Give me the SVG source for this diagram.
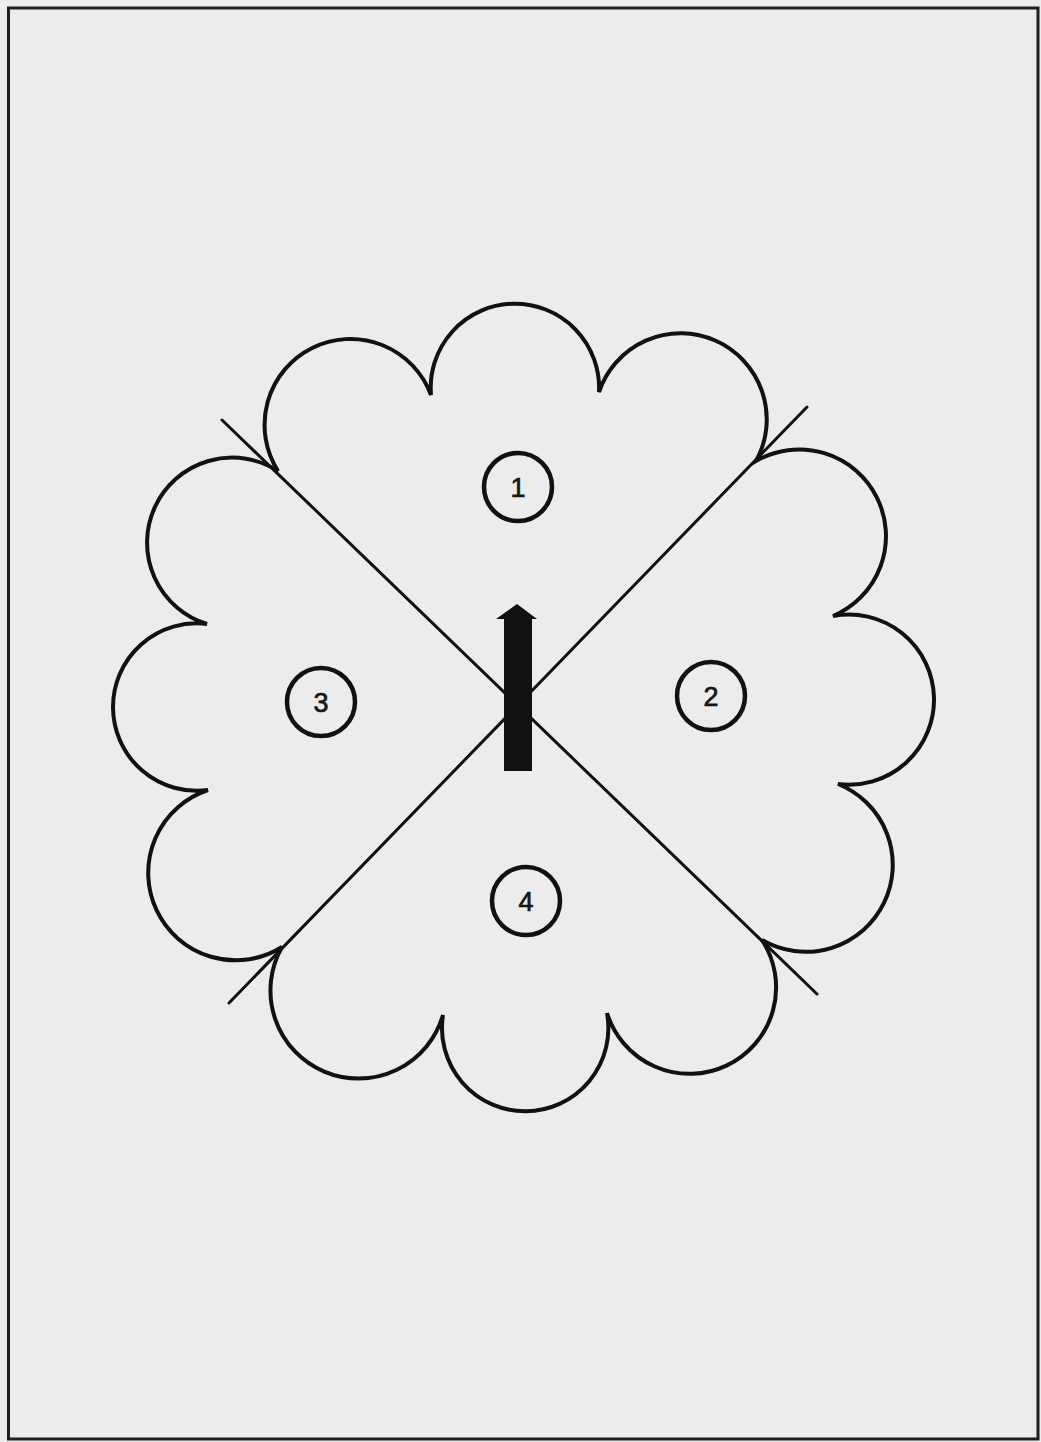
<svg xmlns="http://www.w3.org/2000/svg" width="1041" height="1442" viewBox="0 0 1041 1442">
  <style>
    .ink { fill: none; stroke: #111; stroke-linecap: round; stroke-linejoin: miter; }
    .outline { stroke-width: 4; }
    .divider { stroke-width: 3; }
    .badge { fill: none; stroke: #111; stroke-width: 4.5; }
    .num { font-family: "Liberation Sans", Arial, sans-serif; font-size: 27px; fill: #161616; stroke: #161616; stroke-width: 0.7; text-anchor: middle; }
  </style>
  <rect x="0" y="0" width="1041" height="1442" fill="#ececec"/>
  <rect id="page-border" x="8.5" y="8" width="1029.5" height="1431" fill="none" stroke="#1e1e1e" stroke-width="3"/>

  <g id="flower">
    <path class="ink outline" d="M 278 471 A 85.9 85.9 0 1 1 431 395 A 84.2 84.2 0 1 1 599 392 A 86.1 86.1 0 1 1 756 461 A 86.7 86.7 0 1 1 833 616 A 85.1 85.1 0 1 1 838 784 A 87 87 0 1 1 762 940 A 86.5 86.5 0 1 1 607 1013 A 83.2 83.2 0 1 1 443 1015 A 88 88 0 1 1 282 947 A 87.4 87.4 0 1 1 208 790 A 83.7 83.7 0 1 1 207 624 A 85.1 85.1 0 1 1 278 471 Z"/>
  </g>

  <g id="connectors">
    <line class="ink divider" x1="222" y1="420" x2="817" y2="994"/>
    <line class="ink divider" x1="807" y1="407" x2="229" y2="1003"/>
  </g>

  <g id="arrow">
    <path d="M 496 619 L 517 604 L 537 619 L 532 619 L 532 771 L 504 771 L 504 619 Z" fill="#111"/>
  </g>

  <g id="node-1">
    <circle class="badge" cx="518" cy="487" r="34"/>
    <text class="num" x="518" y="497">1</text>
  </g>
  <g id="node-2">
    <circle class="badge" cx="711" cy="696" r="34"/>
    <text class="num" x="711" y="706">2</text>
  </g>
  <g id="node-3">
    <circle class="badge" cx="321" cy="702" r="34"/>
    <text class="num" x="321" y="712">3</text>
  </g>
  <g id="node-4">
    <circle class="badge" cx="526" cy="901" r="34"/>
    <text class="num" x="526" y="911">4</text>
  </g>
</svg>
